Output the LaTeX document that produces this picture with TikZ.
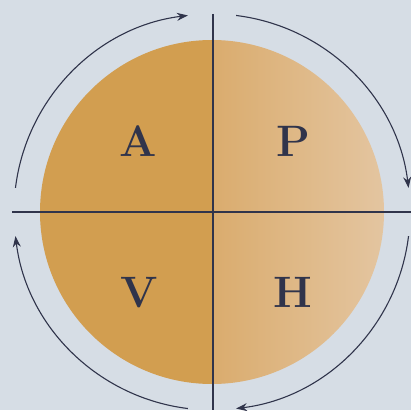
\documentclass[tikz,border=0pt]{standalone}
\usetikzlibrary{arrows.meta}
\definecolor{bg}{RGB}{214,221,229}
\definecolor{orL}{RGB}{210,158,80}
\definecolor{orR1}{RGB}{218,172,110}
\definecolor{orR2}{RGB}{228,198,162}
\definecolor{ink}{RGB}{48,52,75}
\tikzset{
  cyc/.style={draw=ink, line width=1.1pt, -{Stealth[length=11pt,width=8pt]}},
  axis/.style={draw=ink, line width=1.1pt},
  letter/.style={text=ink, font=\fontsize{44}{44}\selectfont\bfseries, inner sep=0pt}
}
\begin{document}
\begin{tikzpicture}[x=1pt,y=1pt]
\useasboundingbox (0,0) rectangle (411,410);
\fill[bg] (0,0) rectangle (411,410);
\coordinate (c) at (212,198);
\begin{scope}
  \clip (c) circle[radius=172];
  \fill[orL] (30,10) rectangle (213,400);
  \shade[left color=orR1, right color=orR2] (213,10) rectangle (390,400);
\end{scope}
\coordinate (vt) at (213,396);
\coordinate (vb) at (213,0);
\coordinate (hl) at (12,198);
\coordinate (hr) at (411,198);
\draw[axis] (vt) -- (vb);
\draw[axis] (hl) -- (hr);
\draw[cyc] ([shift={(173:198)}]c) arc[start angle=173, end angle=97, radius=198];
\draw[cyc] ([shift={(83:198)}]c) arc[start angle=83, end angle=7, radius=198];
\draw[cyc] ([shift={(-7:198)}]c) arc[start angle=-7, end angle=-83, radius=198];
\draw[cyc] ([shift={(-97:198)}]c) arc[start angle=-97, end angle=-173, radius=198];
\node[letter] (A) at (138,269) {A};
\node[letter] (P) at (293,269) {P};
\node[letter] (V) at (139,117) {V};
\node[letter] (H) at (293,118) {H};
\end{tikzpicture}
\end{document}
